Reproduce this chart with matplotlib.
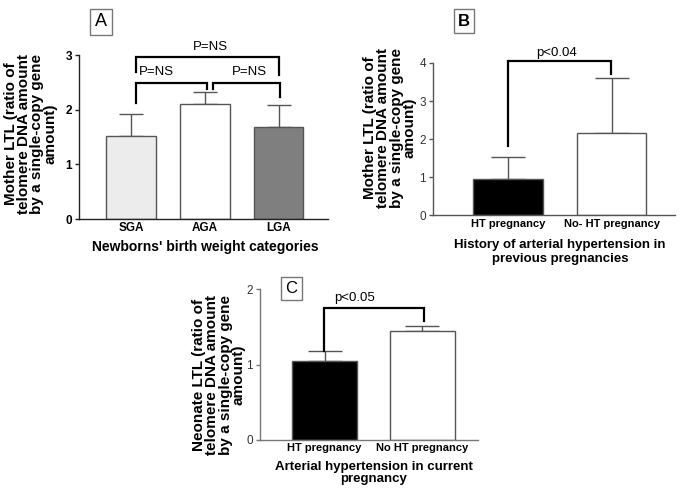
import matplotlib
matplotlib.use("Agg")
import matplotlib.pyplot as plt

plt.rcParams['font.family'] = ['Liberation Sans', 'DejaVu Sans']

# panel A
a_cats = ['SGA', 'AGA', 'LGA']
a_mean = [1.51, 2.10, 1.68]
a_err = [0.41, 0.22, 0.41]
a_colors = ['#ececec', '#ffffff', '#7f7f7f']
# brackets: x1, x2, left foot, right foot, top, label, label x, label y
a_brackets = [
    (0.07, 1.03, 2.12, 2.38, 2.49, 'P=NS', 0.35, 2.69),
    (1.11, 2.02, 2.38, 2.24, 2.49, 'P=NS', 1.61, 2.69),
    (0.07, 2.00, 2.69, 2.63, 2.96, 'P=NS', 1.07, 3.15),
]

# panel B
b_cats = ['HT pregnancy', 'No- HT pregnancy']
b_mean = [0.95, 2.17]
b_err = [0.58, 1.43]
b_colors = ['#000000', '#ffffff']
b_brackets = [(0.0, 0.99, 1.81, 3.71, 4.05, 'p<0.04', 0.47, 4.27)]

# panel C
c_cats = ['HT pregnancy', 'No HT pregnancy']
c_mean = [1.04, 1.45]
c_err = [0.14, 0.06]
c_colors = ['#000000', '#ffffff']
c_brackets = [(-0.01, 1.02, 1.18, 1.57, 1.75, 'p<0.05', 0.31, 1.88)]

W, H = 685, 491
fig = plt.figure(figsize=(W / 100, H / 100), dpi=100)


def px_axes(left, right, top, bottom):
    return fig.add_axes([left / W, 1 - bottom / H, (right - left) / W, (bottom - top) / H])


def draw_panel(ax, cats, mean, err, colors, brackets, ylim, xlim, spine_col, bold_ticks, cap, catsize):
    x = list(range(len(cats)))
    ax.bar(x, mean, width=0.67, color=colors, edgecolor='#555555', linewidth=1.0, zorder=2)
    ax.errorbar(x, mean, yerr=[[0] * len(err), err], fmt='none', ecolor='#555555',
                elinewidth=1.0, capsize=cap, capthick=1.0, zorder=1)
    for x1, x2, yl, yr, yt, lab, lx, ly in brackets:
        ax.plot([x1, x1, x2, x2], [yl, yt, yt, yr], color='black', lw=1.6, clip_on=False,
                solid_joinstyle='miter')
        ax.text(lx, ly, lab, ha='center', va='center', fontsize=9.5, clip_on=False)
    ax.set_xlim(*xlim)
    ax.set_ylim(*ylim)
    ax.set_yticks(range(int(ylim[1]) + 1))
    ax.set_xticks(x)
    ax.set_xticklabels(cats, fontsize=catsize, fontweight='bold')
    ax.tick_params(axis='x', length=0, pad=2.5)
    ax.tick_params(axis='y', length=3, width=1, color=spine_col, labelsize=8.5, pad=2)
    for t in ax.get_yticklabels():
        if bold_ticks:
            t.set_fontweight('bold')
        else:
            t.set_color('#333333')
    for s in ['top', 'right']:
        ax.spines[s].set_visible(False)
    for s in ['left', 'bottom']:
        ax.spines[s].set_color(spine_col)
        ax.spines[s].set_linewidth(1.0)
    ax.patch.set_alpha(0)


axA = px_axes(79, 328, 55, 219)
draw_panel(axA, a_cats, a_mean, a_err, a_colors, a_brackets, (0, 3), (-0.705, 2.67),
           '#222222', True, 8.5, 8.5)

axB = px_axes(433, 675, 63, 215.5)
draw_panel(axB, b_cats, b_mean, b_err, b_colors, b_brackets, (0, 4), (-0.725, 1.61),
           '#555555', False, 12.5, 8)

axC = px_axes(260, 478, 289, 440)
draw_panel(axC, c_cats, c_mean, c_err, c_colors, c_brackets, (0, 2), (-0.66, 1.567),
           '#777777', False, 12.5, 8)

ylab = 'LTL (ratio of\ntelomere DNA amount\nby a single-copy gene\namount)'
fig.text(30.5 / W, 1 - 134 / H, 'Mother ' + ylab, rotation=90, ha='center', va='center',
         fontsize=11, fontweight='bold', linespacing=0.92)
fig.text(390 / W, 1 - 128 / H, 'Mother ' + ylab, rotation=90, ha='center', va='center',
         fontsize=11, fontweight='bold', linespacing=0.92)
fig.text(219 / W, 1 - 375 / H, 'Neonate ' + ylab, rotation=90, ha='center', va='center',
         fontsize=11, fontweight='bold', linespacing=0.92)

fig.text(205 / W, 1 - 247 / H, "Newborns' birth weight categories", ha='center', va='center',
         fontsize=10, fontweight='bold')
fig.text(560 / W, 1 - 252 / H, 'History of arterial hypertension in\nprevious pregnancies',
         ha='center', va='center', fontsize=9.5, fontweight='bold', linespacing=1.3)
fig.text(374 / W, 1 - 473 / H, 'Arterial hypertension in current\npregnancy',
         ha='center', va='center', fontsize=9.5, fontweight='bold', linespacing=1.05)

box = dict(boxstyle='square,pad=0.25', fc='white', ec='#777777', lw=1.0)
fig.text(101 / W, 1 - 22 / H, 'A', ha='center', va='center', fontsize=13, bbox=box)
fig.text(464 / W, 1 - 21 / H, 'B', ha='center', va='center', fontsize=12, fontweight='bold', bbox=box)
fig.text(291.5 / W, 1 - 288.5 / H, 'C', ha='center', va='center', fontsize=12, bbox=box)

fig.savefig('out.png', dpi=100)
